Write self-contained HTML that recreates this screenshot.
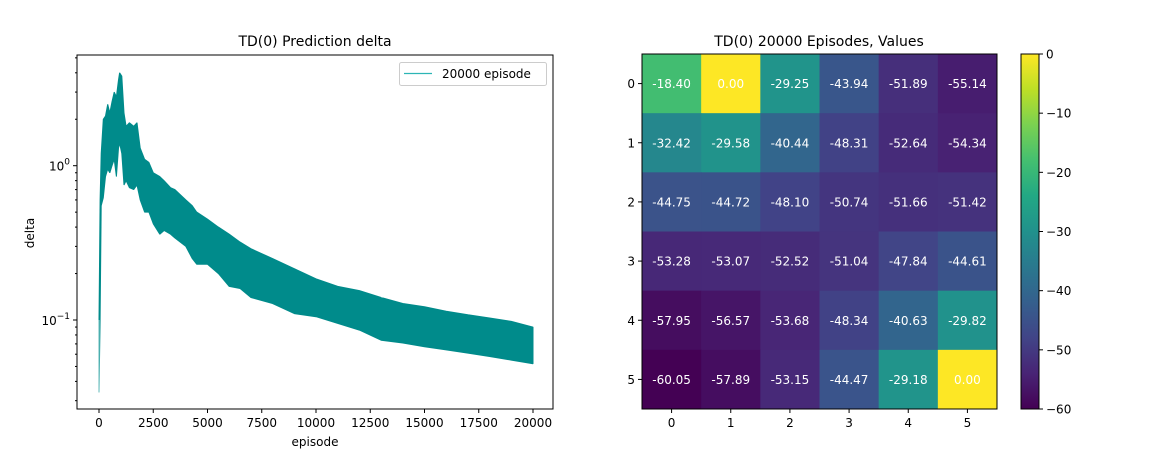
<!DOCTYPE html>
<html><head><meta charset="utf-8"><style>
html,body{margin:0;padding:0;background:#fff;}
svg{display:block;font-family:"DejaVu Sans","Liberation Sans",sans-serif;}
</style></head><body>
<svg id="fig" width="1154" height="460" viewBox="0 0 1154 460" xmlns="http://www.w3.org/2000/svg">
<rect width="1154" height="460" fill="#fff"/>
<g id="left"></g>
<g id="right"></g>
</svg>
<script>
const episodes=[0,50,100,200,300,400,500,600,700,800,900,950,1050,1150,1250,1400,1600,1750,1900,2100,2300,2500,2800,3000,3300,3500,4000,4300,4500,5000,5500,6000,6500,7000,8000,9000,10000,11000,12000,13000,14000,15000,16000,17000,18000,19000,20000];
const deltaUpper=[0.10,0.6,1.2,2.0,2.1,2.5,2.2,2.6,3.0,2.8,3.6,4.0,3.8,2.2,1.8,1.9,1.8,1.9,1.3,1.1,1.05,0.9,0.85,0.8,0.72,0.7,0.6,0.55,0.5,0.45,0.4,0.36,0.32,0.29,0.25,0.215,0.185,0.165,0.155,0.14,0.128,0.122,0.114,0.108,0.103,0.098,0.09];
const deltaLower=[0.034,0.1,0.55,0.62,0.85,0.95,0.9,1.0,1.1,0.85,1.3,1.4,1.2,0.75,0.8,0.72,0.7,0.75,0.6,0.5,0.5,0.42,0.36,0.38,0.36,0.34,0.3,0.25,0.23,0.23,0.2,0.165,0.16,0.14,0.128,0.11,0.105,0.095,0.086,0.074,0.071,0.067,0.064,0.061,0.058,0.055,0.052];
const xTicks=[0,2500,5000,7500,10000,12500,15000,17500,20000];
const values=[
[-18.40,0.00,-29.25,-43.94,-51.89,-55.14],
[-32.42,-29.58,-40.44,-48.31,-52.64,-54.34],
[-44.75,-44.72,-48.10,-50.74,-51.66,-51.42],
[-53.28,-53.07,-52.52,-51.04,-47.84,-44.61],
[-57.95,-56.57,-53.68,-48.34,-40.63,-29.82],
[-60.05,-57.89,-53.15,-44.47,-29.18,0.00]];
const cbTicks=[0,-10,-20,-30,-40,-50,-60];

const NS="http://www.w3.org/2000/svg";
function mk(p,t,a,txt){const e=document.createElementNS(NS,t);for(const k in a)e.setAttribute(k,a[k]);if(txt!==undefined)e.textContent=txt;p.appendChild(e);return e;}

const L=document.getElementById('left');
const ax={l:77,r:553,t:55,b:409};
const x0=99,x1=533;
const sx=v=>x0+(v/20000)*(x1-x0);
const yDec0=165.7,decPx=154.3;
const sy=v=>yDec0-Math.log10(v)*decPx;
let pts=[];
for(let i=0;i<episodes.length;i++)pts.push(sx(episodes[i]).toFixed(1)+','+sy(deltaUpper[i]).toFixed(1));
for(let i=episodes.length-1;i>=0;i--)pts.push(sx(episodes[i]).toFixed(1)+','+sy(deltaLower[i]).toFixed(1));
const band=mk(L,'polygon',{points:pts.join(' '),fill:'#008b8b',stroke:'#008b8b','stroke-width':1,'stroke-linejoin':'bevel'});


const sp=mk(L,'line',{x1:sx(0),x2:sx(0),y1:sy(deltaLower[0]),y2:sy(deltaUpper[0]),stroke:'#7cc6c6','stroke-width':1.2});


const fr=mk(L,'rect',{x:ax.l,y:ax.t,width:ax.r-ax.l,height:ax.b-ax.t,fill:'none',stroke:'#000','stroke-width':1});


xTicks.forEach(v=>{const x=sx(v);mk(L,'line',{x1:x,x2:x,y1:ax.b,y2:ax.b+4,stroke:'#000'});
const t=mk(L,'text',{x:x,y:ax.b+18,'text-anchor':'middle','font-size':12,fill:'#000'},String(v));

});
for(let d=-2;d<=0;d++){for(let m=1;m<10;m++){const v=m*Math.pow(10,d);const y=sy(v);if(y<ax.t||y>ax.b)continue;
mk(L,'line',{x1:ax.l-(m==1?4:2),x2:ax.l,y1:y,y2:y,stroke:'#000'});}}
[[0,'0'],[-1,'\u22121']].forEach(([d,s])=>{const y=sy(Math.pow(10,d));
const t=mk(L,'text',{x:ax.l-7,y:y+5,'text-anchor':'end','font-size':12,fill:'#000'});


mk(t,'tspan',{},'10');mk(t,'tspan',{dy:-6,'font-size':9},s);});
const t1=mk(L,'text',{x:315,y:46,'text-anchor':'middle','font-size':14},'TD(0) Prediction delta');


const xl=mk(L,'text',{x:315,y:446,'text-anchor':'middle','font-size':12},'episode');


const yl=mk(L,'text',{x:0,y:0,'text-anchor':'middle','font-size':12,transform:'translate(34,233) rotate(-90)'},'delta');


const lg=mk(L,'g',{});


mk(lg,'rect',{x:399.5,y:62.5,width:147,height:23,rx:2,fill:'#fff',stroke:'#ccc'});
mk(lg,'line',{x1:404,x2:432,y1:73.5,y2:73.5,stroke:'#2cb5b5','stroke-width':1.2});
mk(lg,'text',{x:442,y:78,'font-size':12},'20000 episode');

const R=document.getElementById('right');
const hx=642,hy=54,cs=(997-642)/6;
const stops=[[68,1,84],[72,36,117],[65,68,135],[53,95,141],[42,120,142],[33,145,140],[34,168,132],[68,191,112],[122,209,81],[189,223,38],[253,231,37]];
function viridis(t){t=Math.max(0,Math.min(1,t));const f=t*10,i=Math.min(9,Math.floor(f)),u=f-i;const a=stops[i],b=stops[i+1];
return 'rgb('+a.map((c,k)=>Math.round(c+(b[k]-c)*u)).join(',')+')';}
const vmin=-60,vmax=0;
values.forEach((row,r)=>row.forEach((v,c)=>{
const g=mk(R,'g',{});


mk(g,'rect',{x:hx+c*cs,y:hy+r*cs,width:cs+0.5,height:cs+0.5,fill:viridis((v-vmin)/(vmax-vmin))});
mk(g,'text',{x:hx+(c+0.5)*cs,y:hy+(r+0.5)*cs+4.5,'text-anchor':'middle','font-size':12,fill:'#fff'},v.toFixed(2));
}));
mk(R,'rect',{x:hx,y:hy,width:6*cs,height:6*cs,fill:'none',stroke:'#000'});
for(let i=0;i<6;i++){const cx=hx+(i+0.5)*cs;
mk(R,'line',{x1:cx,x2:cx,y1:hy+6*cs,y2:hy+6*cs+4,stroke:'#000'});
const tx=mk(R,'text',{x:cx,y:hy+6*cs+18,'text-anchor':'middle','font-size':12},String(i));


const cy=hy+(i+0.5)*cs;
mk(R,'line',{x1:hx-4,x2:hx,y1:cy,y2:cy,stroke:'#000'});
const ty=mk(R,'text',{x:hx-7,y:cy+4.5,'text-anchor':'end','font-size':12},String(i));

}
const t2=mk(R,'text',{x:819,y:46,'text-anchor':'middle','font-size':14},'TD(0) 20000 Episodes, Values');


const cb=mk(R,'g',{});


const cbx=1021,cbw=18,cbt=54,cbb=409;
const defs=mk(cb,'defs',{});const gr=mk(defs,'linearGradient',{id:'vg',x1:0,y1:1,x2:0,y2:0});
stops.forEach((s,i)=>mk(gr,'stop',{offset:i/10,'stop-color':'rgb('+s.join(',')+')'}));
mk(cb,'rect',{x:cbx,y:cbt,width:cbw,height:cbb-cbt,fill:'url(#vg)',stroke:'#000'});
cbTicks.forEach(v=>{const y=cbb-(v-vmin)/(vmax-vmin)*(cbb-cbt);
mk(cb,'line',{x1:cbx+cbw,x2:cbx+cbw+4,y1:y,y2:y,stroke:'#000'});
const t=mk(cb,'text',{x:cbx+cbw+7,y:y+4.5,'font-size':12},v===0?'0':'\u2212'+Math.abs(v));

});
</script>
</body></html>
